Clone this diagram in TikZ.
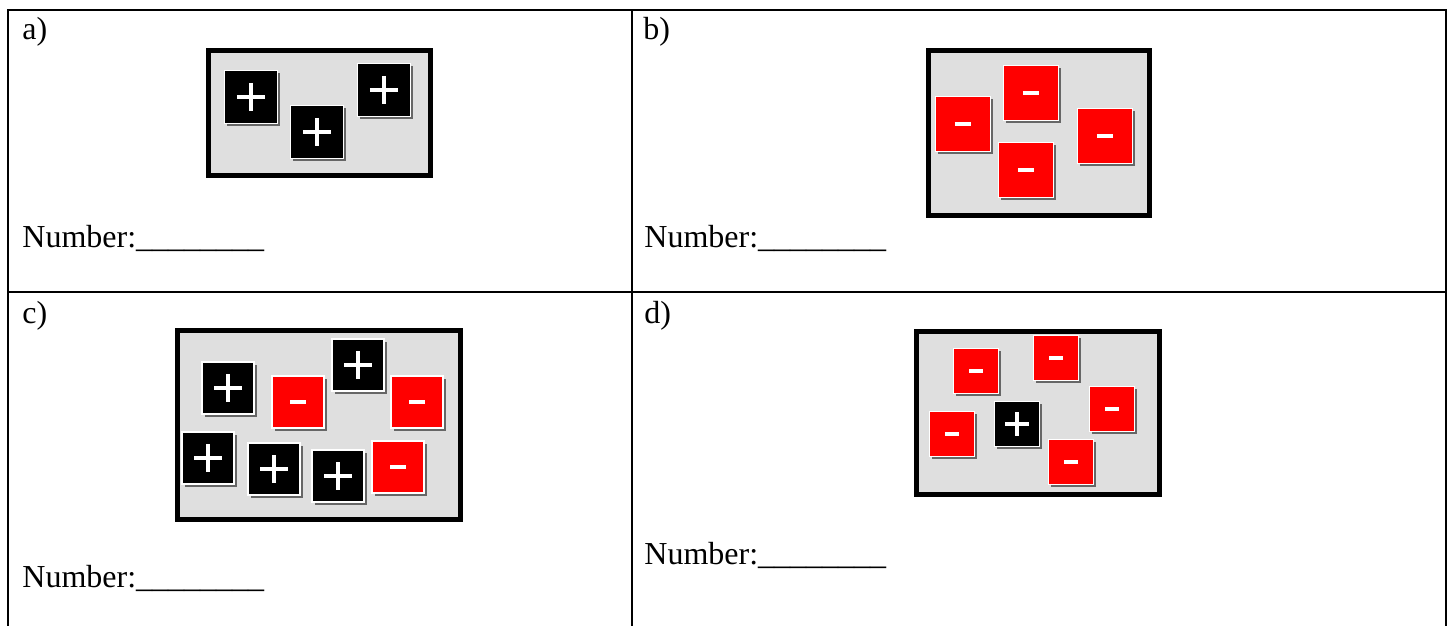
\documentclass[tikz,border=0pt]{standalone}
\usepackage{fontspec}
\setmainfont{Liberation Serif}
\usetikzlibrary{calc,shadows}
\definecolor{panelgray}{HTML}{DFDFDF}
\definecolor{tilered}{HTML}{FF0000}
\begin{document}
\begin{tikzpicture}[x=0.5pt,y=-0.5pt,font=\fontsize{16pt}{19pt}\selectfont,
    lbl/.style={anchor=base west,inner sep=0pt},
    panel/.style={draw=black,line width=2.5pt,fill=panelgray},
    tile/.style={rectangle,inner sep=0pt,minimum size=#1*0.5pt,draw=white,line width=0.6pt,
      drop shadow={shadow xshift=1.4pt,shadow yshift=-1.4pt,fill=black!60,opacity=1}},
    pos/.style={tile=#1,fill=black,path picture={
      \draw[white,line width=1.7pt]
        ($(path picture bounding box.center)!0.53!(path picture bounding box.west)$)--($(path picture bounding box.center)!0.53!(path picture bounding box.east)$)
        ($(path picture bounding box.center)!0.53!(path picture bounding box.north)$)--($(path picture bounding box.center)!0.53!(path picture bounding box.south)$);}},
    neg/.style={tile=#1,fill=tilered,path picture={
      \draw[white,line width=1.7pt]
        ($(path picture bounding box.center)!0.3!(path picture bounding box.west)$)--($(path picture bounding box.center)!0.3!(path picture bounding box.east)$);}}]
  \useasboundingbox (0,0) rectangle (1447,626);
  % table
  \draw[line width=1pt](8,626)--(8,10.5)--(1446,10.5)--(1446,626);
  \draw[line width=1pt](631.5,10.5)--(631.5,626);
  \draw[line width=1pt](8,292)--(1446,292);
  \node[lbl](la)at(22,40){a)};
  \node[lbl](lb)at(643,40){b)};
  \node[lbl](lc)at(22,323){c)};
  \node[lbl](ld)at(644,323){d)};
  \node[lbl](na)at(22,248){Number:\_\_\_\_\_\_\_\_};
  \node[lbl](nb)at(644,248){Number:\_\_\_\_\_\_\_\_};
  \node[lbl](nc)at(22,587){Number:\_\_\_\_\_\_\_\_};
  \node[lbl](nd)at(644,564){Number:\_\_\_\_\_\_\_\_};
  % a)
  \draw[panel](208.5,50.5)rectangle(430.5,175.5);
  \node[pos=53](a1)at(251,97){};
  \node[pos=53](a2)at(317,132){};
  \node[pos=53](a3)at(384,90){};
  % b)
  \draw[panel](928.5,50.5)rectangle(1149.5,215.5);
  \node[neg=55](b1)at(963,124){};
  \node[neg=55](b2)at(1031,93){};
  \node[neg=55](b3)at(1026,170){};
  \node[neg=55](b4)at(1105,136){};
  % c)
  \draw[panel](177.5,330.5)rectangle(460.5,519.5);
  \node[pos=52](c1)at(228,388){};
  \node[neg=52](c2)at(298,402){};
  \node[pos=52](c3)at(358,365){};
  \node[neg=52](c4)at(417,402){};
  \node[pos=52](c5)at(208,458){};
  \node[pos=52](c6)at(274,469){};
  \node[pos=52](c7)at(338,476){};
  \node[neg=52](c8)at(398,467){};
  % d)
  \draw[panel](916.5,331.5)rectangle(1159.5,494.5);
  \node[neg=45](d1)at(976,371){};
  \node[neg=45](d2)at(1056,358){};
  \node[neg=45](d3)at(952,434){};
  \node[pos=45](d4)at(1017,424){};
  \node[neg=45](d5)at(1112,409){};
  \node[neg=45](d6)at(1071,462){};
\end{tikzpicture}
\end{document}
